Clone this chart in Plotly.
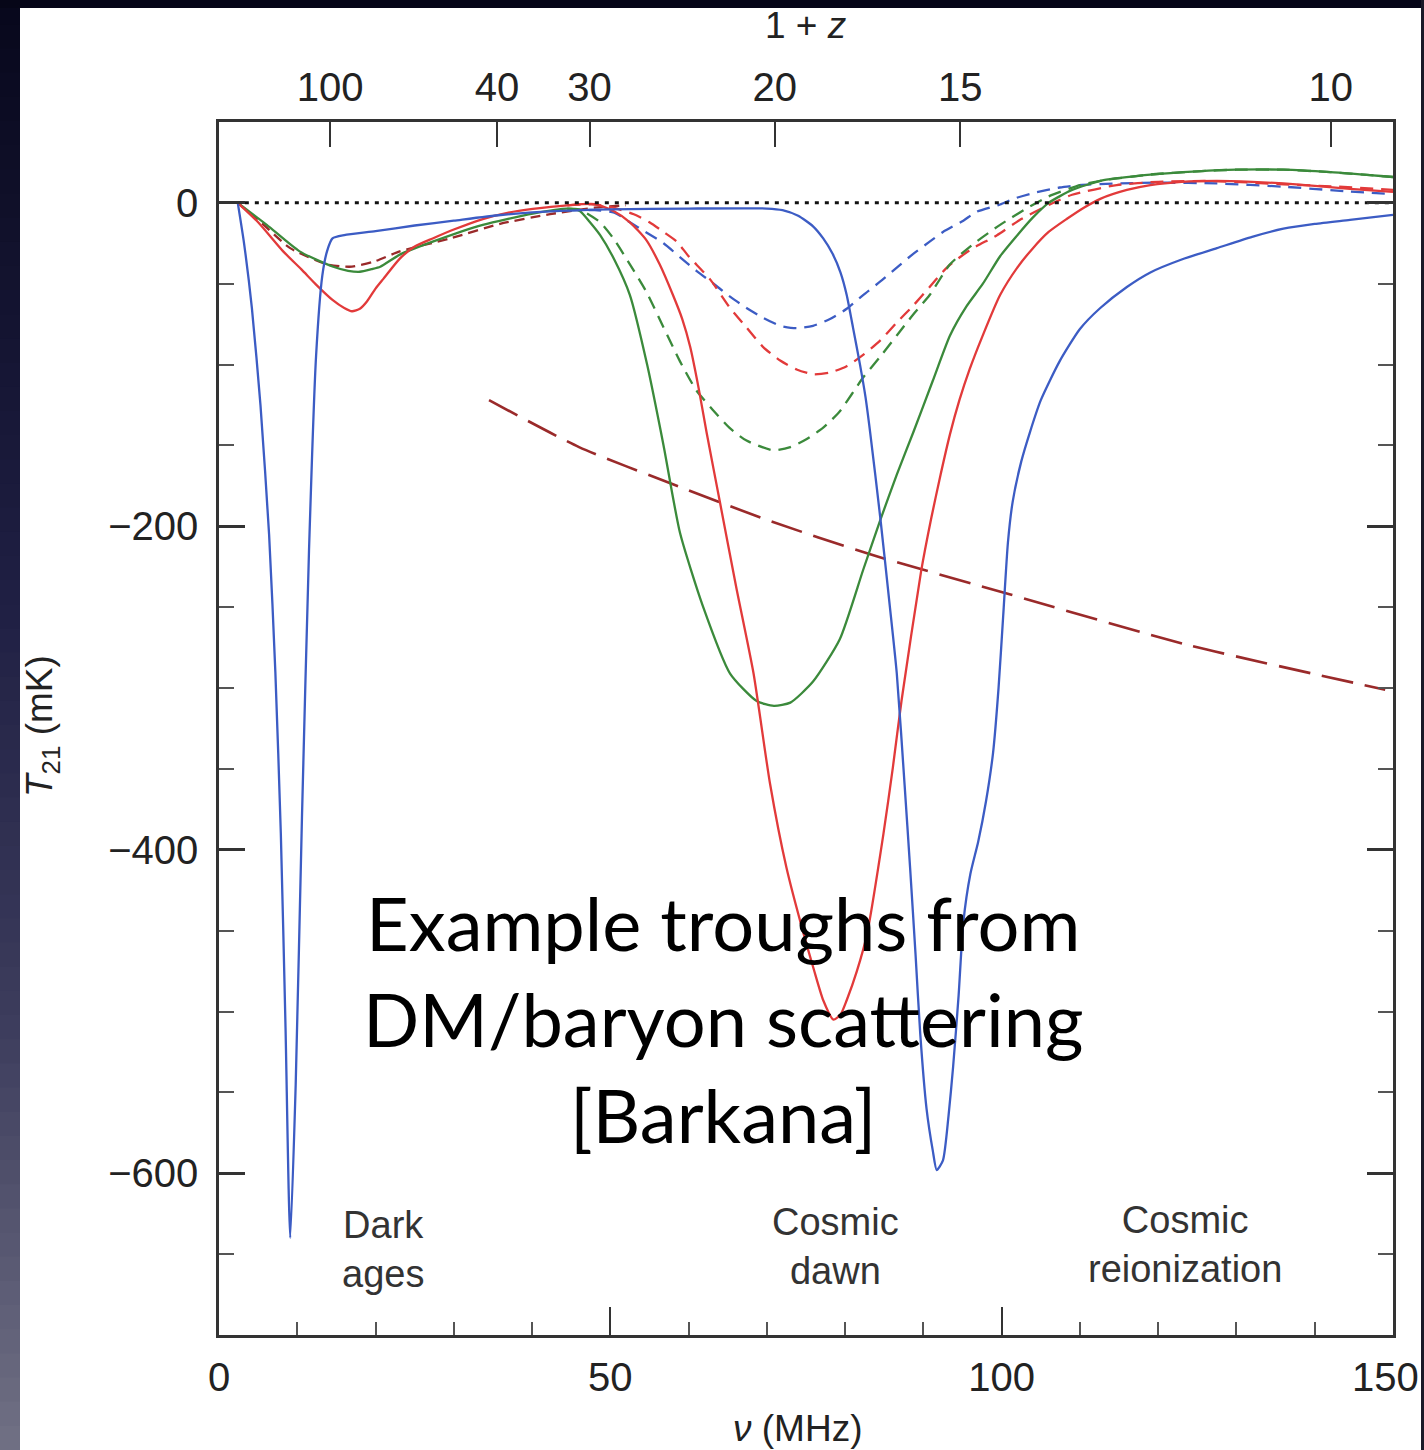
import plotly.graph_objects as go

# ---------------- data ----------------
nu_blue = [2.4, 3.2, 4.2, 5.3, 6.4, 7.2, 7.9, 8.5, 9.1, 9.8, 10.6, 11.5, 12.4, 13.2, 13.8, 14.5, 16, 20, 25, 30,
           36, 43.6, 50, 60, 70, 72, 74, 75.9, 77.2, 78.4, 79.4, 80.2, 81.0, 81.9, 82.6, 83.2, 84.5, 85.7, 86.6, 87.6,
           88.3, 89.0, 89.6, 90.4, 91.2, 91.7, 92.5, 93.2, 93.8, 94.5, 95.1, 96.0, 97.0, 98.0, 98.9, 99.6, 100.2, 100.8, 101.4, 102.5,
           103.6, 105.0, 107.4, 110, 112.6, 116, 119, 123, 127.5, 132, 136, 140, 144.5, 150]
T_blue = [0, -25, -65, -125, -205, -290, -390, -510, -640, -545, -380, -215, -95, -45, -30, -22, -20, -17.5, -14, -11,
          -7.5, -5, -4, -3.5, -3.5, -4.5, -8, -14.5, -22, -31.5, -43, -57, -77, -100, -120, -142, -195, -249, -291, -360,
          -411, -465, -514, -560, -586, -598, -592, -565, -534, -490, -445, -415, -395, -370, -340, -300, -255, -210, -185, -160,
          -142, -122, -98, -78, -65, -52, -43, -35, -28, -21, -16, -13, -10.5, -7.4]

nu_red = [2.4, 5, 8.2, 10.5, 12.5, 14.5, 16, 17, 18, 18.9, 20, 21, 23.1, 25, 27.3, 30, 33.7, 37, 40.1, 44.5,
          48, 50.4, 52.5, 54.6, 56.3, 58, 59.2, 60.2, 61.3, 62.3, 64, 66.1, 68.3, 70.4, 72.5, 74.7, 76, 77.2, 78.5, 79.4,
          80.2, 81.5, 82.8, 84.9, 86.1, 87.2, 89.7, 91, 92.2, 93.4, 94.6, 95.9, 97.5, 99.8, 102, 104, 106, 108.3, 110.5, 112.6,
          116, 119, 123, 127.5, 132, 136, 140, 144.5, 150]
T_red = [0, -12, -30, -41, -51, -60, -65, -67, -65.5, -61, -53, -47, -34.5, -27, -22, -16.5, -10, -6, -3.7, -1.5,
         -0.8, -5, -12, -23, -38, -57, -72, -89, -115, -142, -185, -238, -291, -359, -411, -452, -474, -493, -505, -502,
         -493, -475, -452, -390, -349, -308, -228, -195, -168, -143, -122, -103, -83, -57, -40, -28, -18, -10, -3, 2.5,
         8, 11, 13, 13.6, 13, 12, 10.5, 8.6, 6.8]

nu_green = [2.4, 6.1, 10.3, 14.6, 16.5, 18, 19.5, 20.6, 23.1, 27.3, 33.7, 40.1, 44.5, 46.1, 47.4, 48.7, 50.5, 52.5, 54.7, 56.8,
            58.9, 61.8, 65.3, 68.7, 70.9, 73, 75.9, 79.3, 82.3, 84.5, 86.6, 88.7, 91.2, 93.4, 95.5, 97.6, 99.8, 102, 104, 106,
            109, 113, 119, 125, 130, 136, 142, 150]
T_green = [0, -13.6, -30, -39.5, -42, -42.6, -41, -39.5, -32, -24, -13.6, -6.6, -3.5, -5, -12, -20, -35, -57, -100, -150,
           -204, -249, -291, -308, -311, -309, -296, -270, -227, -196, -168, -142, -110, -82, -64, -50, -33, -20, -9, 0,
           8, 14, 17.5, 19.5, 20.5, 20.5, 19, 16]

nu_green_dash = [44.5, 46, 48.7, 50.4, 52.5, 54.6, 56.8, 58.9, 61, 63.1, 65.2, 67.4, 70.8, 73, 75.1, 77.2, 79.3, 82.3, 84.5, 86.6,
                 88.7, 90.8, 93.4, 96.5, 99.8, 103, 106, 110, 113, 119, 125, 130, 136, 142, 150]
T_green_dash = [-3.5, -4, -12, -22, -38, -55, -77, -98, -116, -128, -139, -147, -153, -151, -146, -139, -129, -108, -95, -82,
                -69, -57, -38, -25, -13.6, -4, 4, 11, 14, 17.5, 19.5, 20.5, 20.5, 19, 16]

nu_red_dash = [44.5, 48, 50.4, 53, 55, 56.8, 58.5, 60, 62.7, 65.3, 67.4, 69.5, 71.7, 73.8, 75.9, 78, 80.2, 82.3, 84.5, 86.6,
               88.7, 90.8, 93, 96, 99.4, 102.5, 105.7, 109, 114.7, 120, 127, 136, 143, 150]
T_red_dash = [-1.5, -1, -3, -7, -12, -18, -24, -33, -47, -65, -77, -89, -97.5, -103, -106, -105, -101, -94, -85, -74,
              -63.5, -52, -40, -29, -20, -10, -2, 5, 11, 13, 13.5, 11.5, 10, 8]

nu_blue_dash = [44.5, 48, 50.5, 52.5, 54.5, 56.8, 59, 61, 63.2, 65.3, 67.4, 69.5, 71.7, 73.8, 75.9, 78, 80.2, 82.3, 84.5, 86.6,
                88.7, 90.8, 92.5, 95.1, 96.8, 99.8, 101.5, 104, 107.4, 110, 114.7, 120, 127.5, 136, 144.5, 150]
T_blue_dash = [-4.5, -4.5, -6, -12, -18, -25, -34, -42, -50, -58, -65, -71, -76, -77.5, -76, -72, -65.5, -57, -48.6, -40,
               -31.5, -24, -18, -11, -5.5, -1, 2.5, 6, 9.5, 11, 12, 12.5, 12, 10, 7, 5.5]

nu_darkred_dash = [2.4, 4.9, 9.1, 13.8, 16.7, 19.7, 23.1, 29.5, 35.9, 42.3, 48, 52]
T_darkred_dash = [0, -10, -28, -38, -39.5, -36.5, -30, -22, -13, -7, -3, -1.5]

nu_limit = [34.5, 46, 58, 70, 83, 101, 123.5, 149]
T_limit = [-122, -151, -174, -196, -217, -242, -273, -301]

nu_zero = [3.3, 150]
T_zero = [0, 0]

nu_tick_labels = [0, 50, 100, 150]
z_tick_labels = [100, 40, 30, 20, 15, 10]
NU21 = 1420.4  # MHz, rest frequency of the 21-cm line

region_labels = ["Dark<br>ages", "Cosmic<br>dawn", "Cosmic<br>reionization"]
overlay_text = "Example troughs from<br>DM/baryon scattering<br>[Barkana]"

# ---------------- styling / geometry ----------------
W, H = 1424, 1450
ML, MR, MT, MB = 219, 31, 122, 115
PW, PH = W - ML - MR, H - MT - MB


def px_x(px):
    return (px - ML) / PW


def px_y(py):
    return (H - MB - py) / PH


BLUE = "#3c5cc4"
RED = "#e23a3a"
GREEN = "#3b8a3b"
DARKRED = "#9a2a2a"

fig = go.Figure()


def add_line(x, y, color, dash="solid", width=2.3, xaxis="x"):
    fig.add_trace(go.Scatter(x=x, y=y, mode="lines", xaxis=xaxis,
                             line=dict(color=color, width=width, dash=dash, shape="spline", smoothing=0.6),
                             hoverinfo="skip", showlegend=False))


add_line(nu_zero, T_zero, "#111", dash="4px,6px", width=3, xaxis="x2")
add_line(nu_darkred_dash, T_darkred_dash, DARKRED, dash="10px,6px")
add_line(nu_limit, T_limit, DARKRED, dash="32px,12px", width=2.6)
add_line(nu_blue_dash, T_blue_dash, BLUE, dash="13px,8px")
add_line(nu_red_dash, T_red_dash, RED, dash="13px,8px")
add_line(nu_green_dash, T_green_dash, GREEN, dash="13px,8px")
add_line(nu_green, T_green, GREEN)
add_line(nu_red, T_red, RED)
add_line(nu_blue, T_blue, BLUE)

TICKFONT = dict(family="Liberation Sans, Arial, sans-serif", size=40, color="#222")
AXC = "#333"

fig.update_layout(
    width=W, height=H,
    margin=dict(l=ML, r=MR, t=MT, b=MB, pad=0),
    paper_bgcolor="white", plot_bgcolor="white",
    showlegend=False,
    font=dict(family="Liberation Sans, Arial, sans-serif", size=38, color="#222"),
    xaxis=dict(range=[0, 150], tickmode="array", tickvals=nu_tick_labels,
               ticktext=[str(v) for v in nu_tick_labels[:-1]] + [""],
               ticks="inside", ticklen=28, tickwidth=2, tickcolor=AXC,
               showline=True, linecolor=AXC, linewidth=2.5, mirror=True, showgrid=False, zeroline=False,
               tickfont=TICKFONT, ticklabelstandoff=5,
               minor=dict(dtick=10, tick0=0, ticks="inside", ticklen=13, tickwidth=2, tickcolor="#555")),
    xaxis2=dict(overlaying="x", side="top", anchor="y", range=[0, 150], tickmode="array",
                tickvals=[NU21 / z for z in z_tick_labels], ticktext=[str(z) for z in z_tick_labels],
                ticks="inside", ticklen=25, tickwidth=2, tickcolor=AXC, showline=False, showgrid=False,
                zeroline=False, tickfont=TICKFONT, ticklabelstandoff=12),
    yaxis=dict(range=[-700, 50], tick0=0, dtick=200, ticks="inside", ticklen=26, tickwidth=2.5, tickcolor=AXC,
               showline=True, linecolor=AXC, linewidth=2.5, mirror="ticks", showgrid=False, zeroline=False,
               tickfont=TICKFONT, ticklabelstandoff=10,
               minor=dict(dtick=50, tick0=0, ticks="inside", ticklen=15, tickwidth=2, tickcolor="#555")),
)

# last bottom tick label, kept inside the page (it is clipped by the slide edge in the reference)
fig.add_annotation(text=str(nu_tick_labels[-1]), x=px_x(1421), y=px_y(1377), xref="paper", yref="paper",
                   showarrow=False, font=TICKFONT, xanchor="right", yanchor="middle")

# axis titles
LBL = dict(family="Liberation Sans, Arial, sans-serif", size=37, color="#222")
fig.add_annotation(text="1 + <i>z</i>", x=px_x(805), y=px_y(25), xref="paper", yref="paper",
                   showarrow=False, font=LBL, xanchor="center", yanchor="middle")
fig.add_annotation(text="<i>ν</i> (MHz)", x=px_x(797), y=px_y(1428), xref="paper", yref="paper",
                   showarrow=False, font=LBL, xanchor="center", yanchor="middle")
fig.add_annotation(text="<i>T</i><sub>21</sub> (mK)", x=px_x(42), y=px_y(726), xref="paper", yref="paper",
                   showarrow=False, font=LBL, textangle=-90, xanchor="center", yanchor="middle")

# era labels
for txt, cx, cy in zip(region_labels, [383, 835, 1185], [1249, 1246, 1244]):
    fig.add_annotation(text=txt, x=px_x(cx), y=px_y(cy), xref="paper", yref="paper", showarrow=False,
                       font=dict(family="Liberation Sans, Arial, sans-serif", size=38, color="#333"),
                       xanchor="center", yanchor="middle", align="center")

# overlay text
fig.add_annotation(text=overlay_text, x=px_x(723), y=px_y(1018), xref="paper", yref="paper", showarrow=False,
                   font=dict(family="Lato, Open Sans, sans-serif", size=74, color="#000"),
                   xanchor="center", yanchor="middle", align="center")

# dark slide frame (left gradient strip, top strip, right edge)
shapes = []
stops = [(0.0, (8, 8, 28)), (0.4, (30, 30, 66)), (0.7, (60, 60, 92)), (1.0, (112, 112, 132))]


def grad(t):
    for (t0, c0), (t1, c1) in zip(stops[:-1], stops[1:]):
        if t0 <= t <= t1:
            f = (t - t0) / (t1 - t0)
            return "rgb(%d,%d,%d)" % tuple(round(a + (b - a) * f) for a, b in zip(c0, c1))
    return "rgb(%d,%d,%d)" % stops[-1][1]


NB = 60
for i in range(NB):
    y0 = H * i / NB
    y1 = H * (i + 1) / NB + 1
    shapes.append(dict(type="rect", xref="paper", yref="paper", x0=px_x(0), x1=px_x(20),
                       y0=px_y(y1), y1=px_y(y0), fillcolor=grad((i + 0.5) / NB), line=dict(width=0), layer="above"))
shapes.append(dict(type="rect", xref="paper", yref="paper", x0=px_x(0), x1=px_x(W), y0=px_y(8), y1=px_y(0),
                   fillcolor="rgb(6,6,24)", line=dict(width=0), layer="above"))
shapes.append(dict(type="rect", xref="paper", yref="paper", x0=px_x(1421), x1=px_x(W), y0=px_y(H), y1=px_y(0),
                   fillcolor="rgb(25,25,40)", line=dict(width=0), layer="above"))
fig.update_layout(shapes=shapes)

fig.write_html("out.html")
